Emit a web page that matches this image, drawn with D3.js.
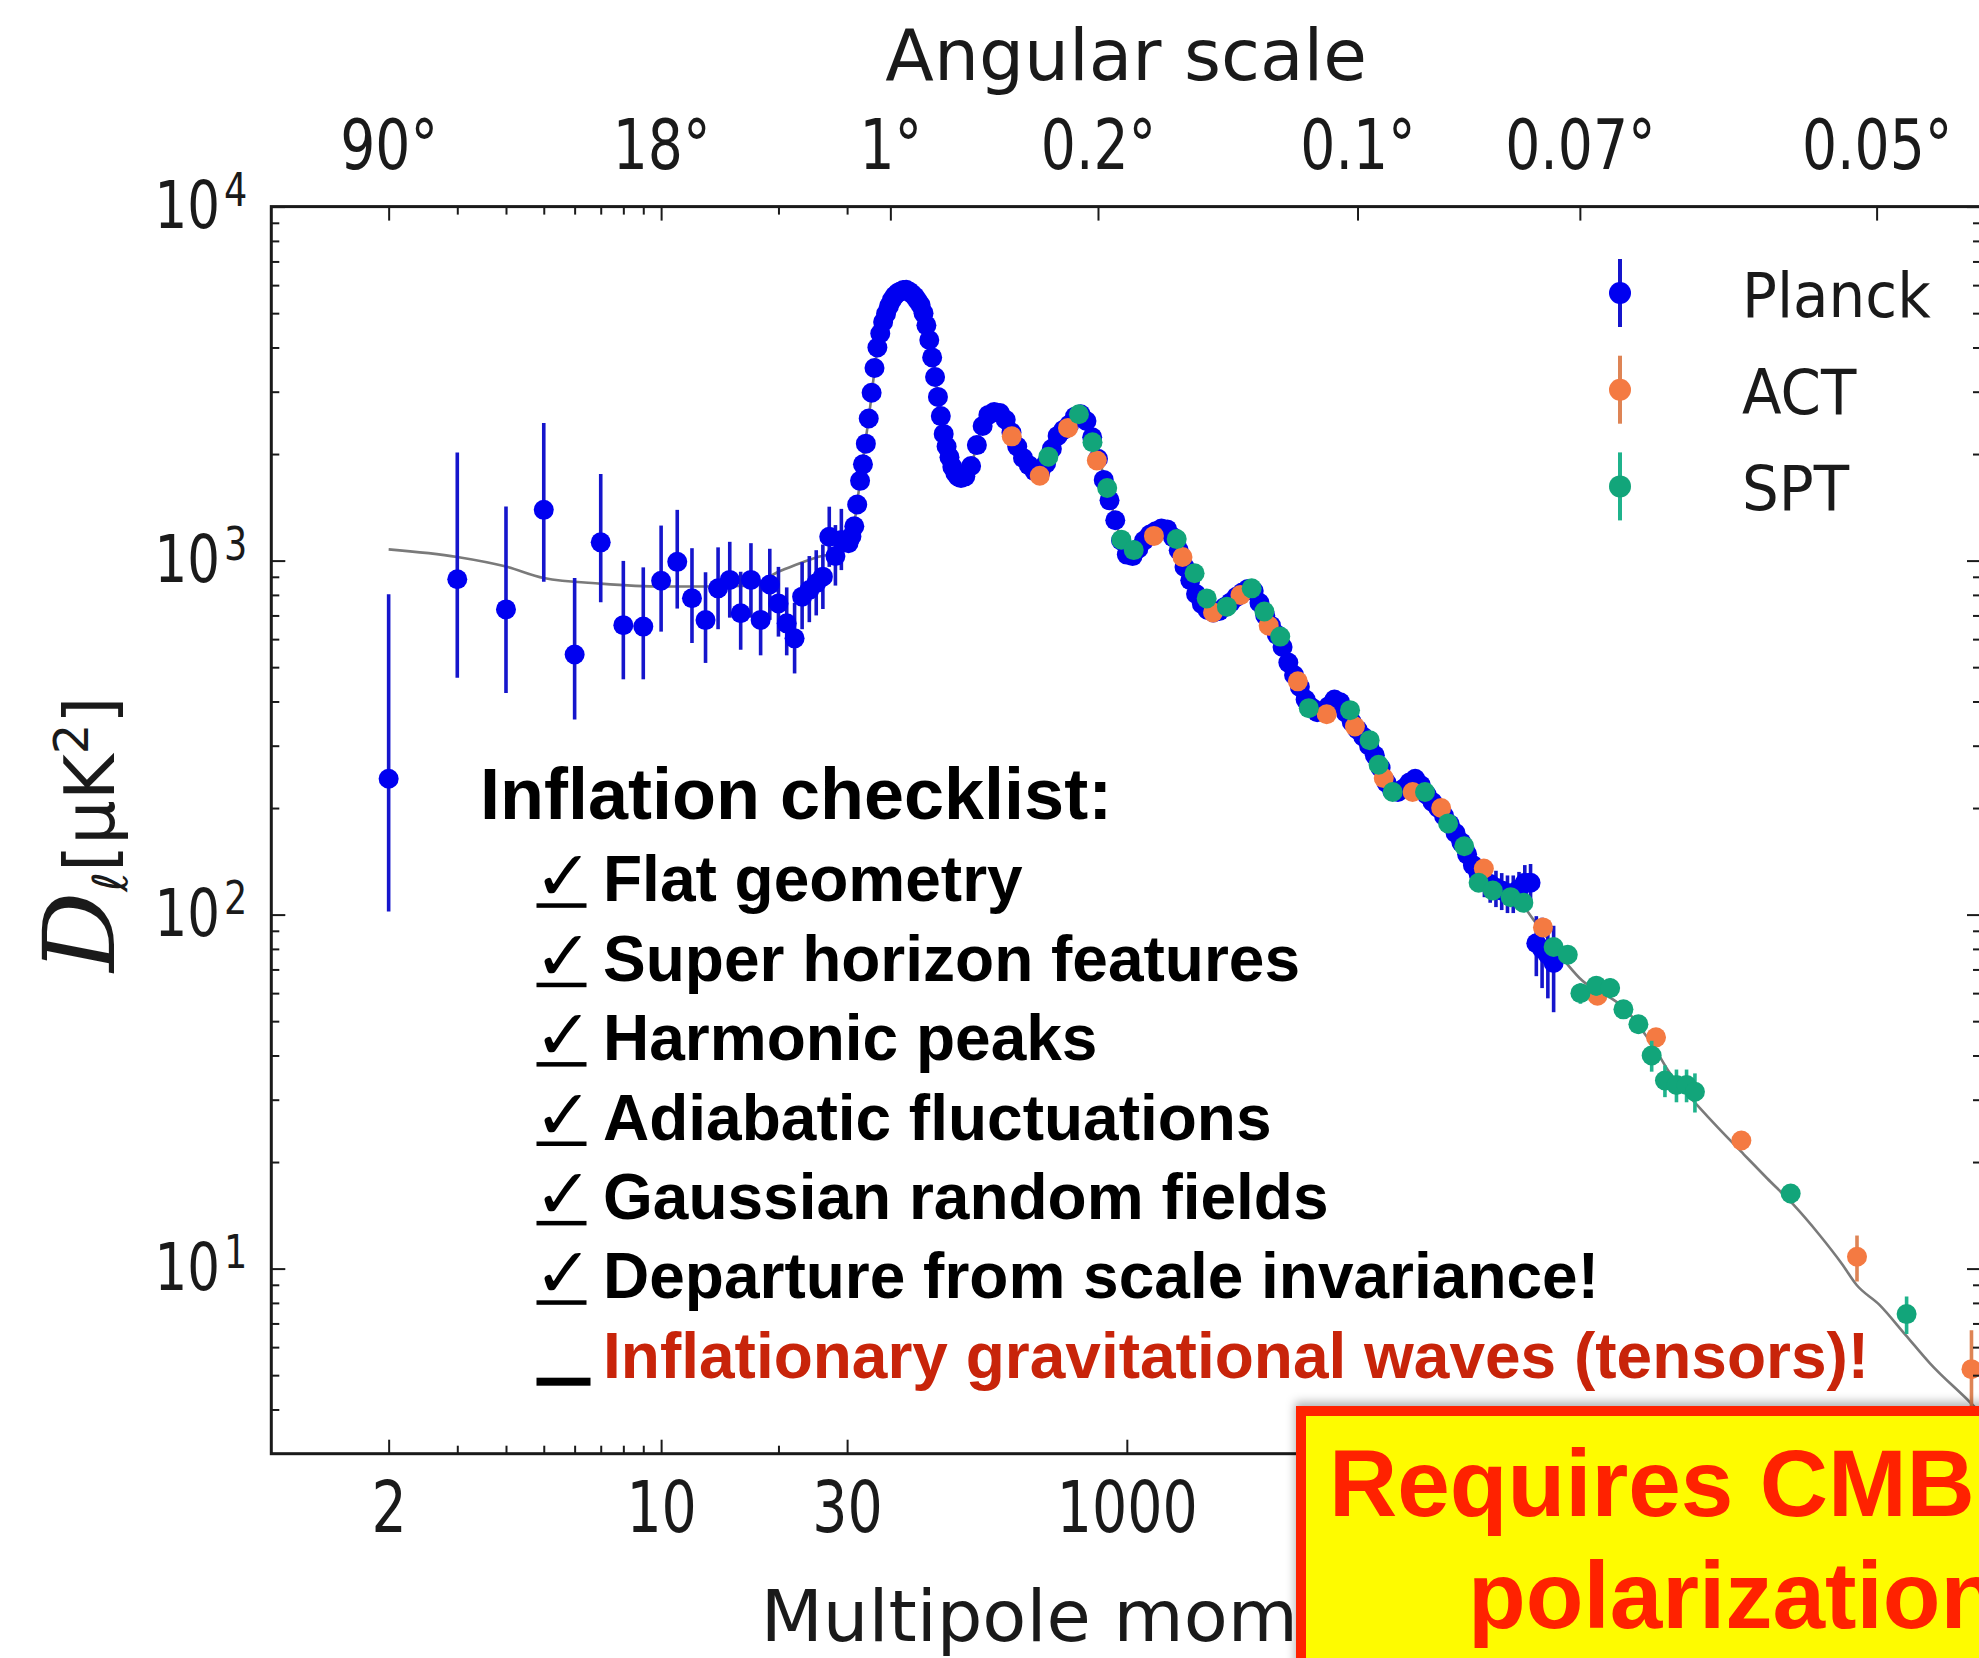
<!DOCTYPE html>
<html>
<head>
<meta charset="utf-8">
<title>CMB temperature power spectrum</title>
<script src="https://cdn.jsdelivr.net/npm/d3@7"></script>
<style>
  html, body { margin: 0; padding: 0; background: #fff; }
  svg { display: block; }
</style>
</head>
<body>
<svg id="chart" width="1979" height="1658"></svg>
<script>
// ---------------- data (D_ell in μK²) ----------------
// Planck low-ℓ: [ℓ, D, lower, upper]
const planckLow = [
  [2, 242, 102, 803], [3, 886, 467, 2020], [4, 728, 423, 1422], [5, 1391, 871, 2447],
  [6, 543, 356, 893], [7, 1126, 763, 1757], [8, 657, 462, 998], [9, 651, 462, 957],
  [10, 877, 630, 1256], [11, 992, 732, 1391], [12, 783, 585, 1084], [13, 679, 514, 927],
  [14, 835, 640, 1090], [15, 882, 690, 1130], [16, 710, 560, 930], [17, 882, 690, 1120],
  [18, 680, 540, 880], [19, 856, 680, 1080], [20, 757, 610, 960], [21, 665, 540, 840],
  [22, 603, 480, 760], [23, 791, 640, 990], [24, 826, 670, 1030], [25, 863, 700, 1070],
  [26, 901, 730, 1110], [27, 1168, 960, 1420], [28, 1030, 850, 1260], [29, 1144, 940, 1400]
];

// Planck binned spectrum: [ℓ, D] (error bars smaller than the markers)
const planckBinned = [
  [35, 1120], [45, 1170], [55, 1250], [65, 1440], [75, 1680], [85, 1870], [95, 2140], [105, 2520], [115, 2980], [125, 3500],
  [135, 4000], [145, 4380], [155, 4720], [165, 4980], [175, 5230], [185, 5445], [195, 5600], [205, 5700], [215, 5760], [225, 5810],
  [235, 5818], [245, 5760], [255, 5670], [265, 5568], [275, 5420], [285, 5270], [295, 5000], [305, 4620], [315, 4200], [325, 3750],
  [335, 3300], [345, 2900], [355, 2560], [365, 2280], [375, 2100], [385, 1960], [395, 1840], [405, 1770], [415, 1725], [425, 1710],
  [440, 1730], [460, 1850], [480, 2120], [500, 2400], [520, 2580], [540, 2630], [560, 2610], [580, 2500], [600, 2300], [620, 2100],
  [640, 1950], [660, 1860], [680, 1790], [700, 1780], [720, 1880], [740, 2070], [760, 2250], [780, 2340], [800, 2420], [820, 2550],
  [840, 2590], [860, 2480], [880, 2230], [900, 1940], [920, 1690], [940, 1480], [960, 1300], [980, 1140], [1000, 1040], [1020, 1030],
  [1040, 1080], [1060, 1140], [1080, 1185], [1100, 1210], [1120, 1232], [1140, 1225], [1160, 1165], [1180, 1070], [1200, 960], [1220, 880],
  [1240, 805], [1260, 755], [1280, 725], [1300, 714], [1320, 720], [1340, 740], [1360, 762], [1380, 790], [1400, 812], [1420, 832],
  [1440, 820], [1460, 760], [1480, 700], [1500, 655], [1520, 618], [1540, 570], [1560, 515], [1580, 475], [1600, 440], [1620, 405],
  [1640, 385], [1660, 373], [1680, 377], [1700, 388], [1720, 405], [1740, 398], [1760, 372], [1780, 350], [1800, 333], [1820, 318],
  [1840, 300], [1860, 282], [1880, 260], [1900, 236], [1920, 224], [1940, 222], [1960, 227], [1980, 236], [2000, 242], [2020, 232],
  [2040, 218], [2060, 208], [2080, 200], [2100, 190], [2120, 180], [2140, 170], [2160, 160], [2180, 148]
];
// Planck high-ℓ tail with visible error bars: [ℓ, D, ±err]
const planckTail = [
  [2200, 138, 10], [2220, 130, 12], [2240, 125, 13], [2260, 122, 14], [2280, 119, 14], [2300, 117, 14],
  [2320, 115, 14], [2340, 115, 14], [2360, 118, 14], [2380, 123, 15], [2400, 123, 16], [2420, 83, 16],
  [2440, 80, 18], [2460, 77, 19], [2480, 73, 20]
];

// ACT
const actEll = [601, 698, 796, 896, 1094, 1193, 1299, 1394, 1492, 1593, 1693, 1791, 1891, 1991, 2090, 2238, 2443, 2632, 2835, 3131, 3532, 3929];
const actD   = [2244, 1736, 2370, 1918, 1174, 1024, 714, 799, 655, 456, 368, 340, 243, 222, 200, 135, 92, 59, 45, 23, 10.8, 5.2];
const actErr = [25, 20, 25, 20, 12, 10, 8, 8, 7, 5, 4, 4, 3, 3, 3, 3, 2, 1.5, 1.2, 1.2, 1.6, 1.5];

// SPT
const sptEll = [728, 834, 881, 932, 981, 1024, 1173, 1235, 1277, 1347, 1433, 1477, 1532, 1631, 1774, 1842, 1873, 1922, 2034, 2114,
  2170, 2220, 2269, 2331, 2375, 2480, 2529, 2573, 2628, 2676, 2722, 2774, 2820, 2866, 2906, 2941, 2970, 3302, 3704];
const sptD   = [1966, 2591, 2160, 1603, 1146, 1071, 1150, 921, 782, 741, 835, 718, 610, 383, 378, 311, 265, 222, 222, 181,
  156, 123, 117, 112, 108, 81, 77, 60, 63, 62, 54, 49, 40, 34, 33, 33, 31.6, 16.3, 7.44];
const sptErr = [20, 25, 20, 15, 10, 10, 10, 8, 7, 7, 8, 7, 6, 4, 4, 3, 3, 3, 3, 3,
  3, 3, 3, 3, 3, 4, 4, 4, 4, 4, 3, 3, 4, 3.5, 3.5, 3.5, 4, 1, 0.9];

// best-fit model curve: [ℓ, D]
const model = [
  [2, 1076], [3, 1024], [4, 962], [5, 893], [7, 861], [10, 845], [13, 845], [17, 849], [20, 930], [22, 970],
  [25, 1020], [30, 1080], [47, 1170], [77, 1726], [107, 2600], [137, 4067], [167, 4996], [197, 5628], [227, 5818], [257, 5652],
  [287, 5221], [317, 4112], [347, 2843], [377, 2053], [420, 1740], [467, 1946], [497, 2365], [540, 2610], [587, 2418], [617, 2128],
  [677, 1803], [737, 2053], [767, 2289], [827, 2584], [887, 2155], [947, 1429], [1007, 1026], [1067, 1160], [1127, 1228], [1187, 1037],
  [1247, 783], [1307, 714], [1367, 769], [1427, 833], [1487, 680], [1547, 546], [1607, 424], [1667, 375], [1727, 403], [1787, 343],
  [1847, 292], [1907, 228], [1937, 222], [1997, 240], [2057, 211], [2117, 182], [2177, 150], [2237, 126], [2297, 117], [2357, 110],
  [2417, 95], [2477, 82], [2530, 72], [2580, 65], [2630, 61], [2680, 58], [2730, 54], [2780, 48], [2830, 42], [2880, 36],
  [2930, 32], [2977, 29], [3050, 25], [3140, 21], [3220, 18], [3310, 15.2], [3400, 12.5], [3480, 10.3], [3530, 9.0], [3610, 7.9],
  [3700, 6.5], [3785, 5.4], [3923, 4.2], [3962, 3.9]
];

// ticks
const bottomMajorLog = [2, 10, 30];
const bottomMajorLin = [1000];
const bottomMinorLog = [3, 4, 5, 6, 7, 8, 9, 20];
const topTickEll = [2, 10, 180, 900, 1800, 2571, 3600];
const topTickLabels = ["90°", "18°", "1°", "0.2°", "0.1°", "0.07°", "0.05°"];
const topMinorLog = [3, 4, 5, 6, 7, 8, 9, 20, 30];
const yMajor = [10, 100, 1000, 10000];

// legend and annotation text
const legendNames = ["Planck", "ACT", "SPT"];
const checklistTitle = "Inflation checklist:";
const checklistDone = ["Flat geometry", "Super horizon features", "Harmonic peaks",
  "Adiabatic fluctuations", "Gaussian random fields", "Departure from scale invariance!"];
const checklistOpen = "Inflationary gravitational waves (tensors)!";
const calloutLines = ["Requires CMB", "polarization"];

// ---------------- layout ----------------
const plot = { left: 271.3, right: 1981, top: 206.6, bottom: 1453.7 };
const ellBreak = 30, xBreak = 847.1;
const xLog = d3.scaleLog().domain([1, ellBreak]).range([plot.left, xBreak]);
const xLin = d3.scaleLinear().domain([ellBreak, 3962]).range([xBreak, plot.right]);
const x = l => (l <= ellBreak ? xLog(l) : xLin(l));
const y = d3.scaleLog().domain([3, 10000]).range([plot.bottom, plot.top]);

const colors = {
  Planck: { dot: "#0000f0", bar: "#1515cc" },
  ACT:    { dot: "#f47a42", bar: "#de8455" },
  SPT:    { dot: "#12a57a", bar: "#1fb38c" }
};
const R = 10;
const axisFont = "DejaVu Sans, Verdana, sans-serif";
const boldFont = "Liberation Sans, Arial, Helvetica, sans-serif";

const svg = d3.select("#chart");
svg.append("rect").attr("width", 1979).attr("height", 1658).attr("fill", "#fff");

const defs = svg.append("defs");
defs.append("clipPath").attr("id", "plot-clip")
  .append("rect").attr("x", plot.left).attr("y", plot.top)
  .attr("width", plot.right - plot.left).attr("height", plot.bottom - plot.top);
const shadow = defs.append("filter").attr("id", "box-shadow")
  .attr("x", "-5%").attr("y", "-20%").attr("width", "120%").attr("height", "140%");
shadow.append("feDropShadow").attr("dx", -1).attr("dy", -4).attr("stdDeviation", 5)
  .attr("flood-color", "#000").attr("flood-opacity", 0.3);

// ---------------- data layer ----------------
const data = svg.append("g").attr("clip-path", "url(#plot-clip)");

data.append("path")
  .datum(model)
  .attr("d", d3.line().x(d => x(d[0])).y(d => y(d[1])).curve(d3.curveMonotoneX))
  .attr("fill", "none").attr("stroke", "#7a7a7a").attr("stroke-width", 2.6);

function drawSeries(name, pts) {
  const c = colors[name];
  const g = data.append("g");
  g.selectAll("line").data(pts.filter(d => d.hi > d.lo)).join("line")
    .attr("x1", d => x(d.l)).attr("x2", d => x(d.l))
    .attr("y1", d => y(Math.max(d.lo, 3))).attr("y2", d => y(d.hi))
    .attr("stroke", c.bar).attr("stroke-width", 3.6);
  g.selectAll("circle").data(pts).join("circle")
    .attr("cx", d => x(d.l)).attr("cy", d => y(d.v)).attr("r", R)
    .attr("fill", c.dot);
}

const planckPts = planckLow.map(([l, v, lo, hi]) => ({ l, v, lo, hi }))
  .concat(planckBinned.map(([l, v]) => ({ l, v, lo: v, hi: v })))
  .concat(planckTail.map(([l, v, e]) => ({ l, v, lo: v - e, hi: v + e })));
const actPts = actEll.map((l, i) => ({ l, v: actD[i], lo: actD[i] - actErr[i], hi: actD[i] + actErr[i] }));
const sptPts = sptEll.map((l, i) => ({ l, v: sptD[i], lo: sptD[i] - sptErr[i], hi: sptD[i] + sptErr[i] }));

drawSeries("Planck", planckPts);
drawSeries("ACT", actPts);
drawSeries("SPT", sptPts);

// ---------------- axes ----------------
const ink = "#1a1a1a";
function tidy(g, tickWidth) {
  g.select(".domain").remove();
  g.selectAll(".tick line").attr("stroke", ink).attr("stroke-width", tickWidth || 2);
  g.attr("color", ink).attr("font-family", axisFont);
}

// bottom: ℓ
[[xLog, bottomMajorLog], [xLin, bottomMajorLin]].forEach(([s, vals]) => {
  const g = svg.append("g").attr("transform", `translate(0,${plot.bottom})`)
    .call(d3.axisBottom(s).tickValues(vals).tickSize(-14).tickPadding(28).tickFormat(d => String(d)));
  tidy(g);
  g.attr("font-size", 71);
  g.selectAll("text").attr("transform", "scale(0.78,1)");
});
svg.append("g").attr("transform", `translate(0,${plot.bottom})`)
  .call(d3.axisBottom(xLog).tickValues(bottomMinorLog).tickSize(-8).tickFormat(() => ""))
  .call(g => tidy(g));

// top: angular scale
const topLabel = d => topTickLabels[topTickEll.indexOf(d)];
[[xLog, topTickEll.filter(l => l <= ellBreak)], [xLin, topTickEll.filter(l => l > ellBreak)]].forEach(([s, vals]) => {
  const g = svg.append("g").attr("transform", `translate(0,${plot.top})`)
    .call(d3.axisTop(s).tickValues(vals).tickSize(-14).tickPadding(38).tickFormat(topLabel));
  tidy(g);
  g.attr("font-size", 69);
  g.selectAll("text").attr("transform", "scale(0.8,1)");
});
svg.append("g").attr("transform", `translate(0,${plot.top})`)
  .call(d3.axisTop(xLog).tickValues(topMinorLog).tickSize(-8).tickFormat(() => ""))
  .call(g => tidy(g));

// y minor ticks
const yMinor = [];
[1, 10, 100, 1000].forEach(dec => d3.range(2, 10).forEach(m => {
  const v = dec * m;
  if (v > 3 && v < 10000) yMinor.push(v);
}));

// left axis with 10^n labels
const yK = 0.78;
const left = svg.append("g").attr("transform", `translate(${plot.left},0)`)
  .call(d3.axisLeft(y).tickValues(yMajor).tickSize(-14).tickPadding(24).tickFormat(""));
tidy(left);
left.attr("font-size", 66);
left.selectAll(".tick text").each(function (d) {
  const t = d3.select(this);
  t.text(null).attr("x", -24 / yK).attr("transform", `scale(${yK},1)`);
  t.append("tspan").text("10");
  t.append("tspan").attr("font-size", 47).attr("dx", 5).attr("dy", -22).text(String(Math.round(Math.log10(d))));
});
svg.append("g").attr("transform", `translate(${plot.left},0)`)
  .call(d3.axisLeft(y).tickValues(yMinor).tickSize(-8).tickFormat(() => ""))
  .call(g => tidy(g));

// right axis ticks
svg.append("g").attr("transform", `translate(${plot.right},0)`)
  .call(d3.axisRight(y).tickValues(yMajor).tickSize(-14).tickFormat(() => ""))
  .call(g => tidy(g));
svg.append("g").attr("transform", `translate(${plot.right},0)`)
  .call(d3.axisRight(y).tickValues(yMinor).tickSize(-8).tickFormat(() => ""))
  .call(g => tidy(g));

// frame
svg.append("rect")
  .attr("x", plot.left).attr("y", plot.top)
  .attr("width", plot.right - plot.left).attr("height", plot.bottom - plot.top)
  .attr("fill", "none").attr("stroke", ink).attr("stroke-width", 3);

// axis titles
const midX = (plot.left + plot.right) / 2;
svg.append("text").attr("x", midX).attr("y", 80)
  .attr("text-anchor", "middle").attr("font-family", axisFont).attr("font-size", 71).attr("fill", ink)
  .text("Angular scale");
svg.append("text").attr("x", midX).attr("y", 1641)
  .attr("text-anchor", "middle").attr("font-family", axisFont).attr("font-size", 72).attr("fill", ink)
  .text("Multipole moment, ℓ");

const yTitle = svg.append("text")
  .attr("transform", `translate(114,${(plot.top + plot.bottom) / 2 + 4}) rotate(-90)`)
  .attr("text-anchor", "middle").attr("font-family", axisFont).attr("font-size", 70).attr("fill", ink);
yTitle.append("tspan").attr("font-family", "DejaVu Serif, Liberation Serif, serif")
  .attr("font-style", "italic").attr("font-size", 100).text("D");
yTitle.append("tspan").attr("font-size", 48).attr("font-style", "italic").attr("dy", 13).text("ℓ");
yTitle.append("tspan").attr("dy", -13).text("[μK");
yTitle.append("tspan").attr("font-size", 48).attr("dy", -26).text("2");
yTitle.append("tspan").attr("dy", 26).text("]");

// ---------------- legend ----------------
const legend = svg.append("g").attr("transform", "translate(1620,293)");
legendNames.forEach((name, i) => {
  const g = legend.append("g").attr("transform", `translate(0,${i * 96.7})`);
  g.append("line").attr("y1", -34).attr("y2", 34)
    .attr("stroke", colors[name].bar).attr("stroke-width", 4);
  g.append("circle").attr("r", 11).attr("fill", colors[name].dot);
  g.append("text").attr("transform", "translate(122,24) scale(0.92,1)")
    .attr("font-family", axisFont).attr("font-size", 63).attr("fill", ink).text(name);
});

// ---------------- checklist ----------------
const notes = svg.append("g").attr("font-family", boldFont).attr("font-weight", "bold");
notes.append("text").attr("x", 480).attr("y", 819).attr("font-size", 72).attr("fill", "#000")
  .text(checklistTitle);
const rowY = i => 901.3 + i * 79.4;
checklistDone.forEach((item, i) => {
  notes.append("text").attr("x", 534).attr("y", rowY(i) - 1)
    .attr("font-family", "DejaVu Sans, sans-serif").attr("font-size", 70).attr("fill", "#000").text("✓");
  notes.append("rect").attr("x", 536.5).attr("y", rowY(i) + 2).attr("width", 50).attr("height", 4.5).attr("fill", "#000");
  notes.append("text").attr("x", 603).attr("y", rowY(i)).attr("font-size", 64).attr("fill", "#000").text(item);
});
const lastY = rowY(checklistDone.length);
notes.append("rect").attr("x", 536.5).attr("y", lastY).attr("width", 54).attr("height", 8).attr("fill", "#000");
notes.append("text").attr("x", 603).attr("y", lastY).attr("font-size", 64).attr("fill", "#c8240a").text(checklistOpen);

// ---------------- callout box ----------------
const box = svg.append("g");
box.append("rect").attr("x", 1301).attr("y", 1411).attr("width", 760).attr("height", 400)
  .attr("fill", "#fefb00").attr("stroke", "#ff2200").attr("stroke-width", 10)
  .attr("filter", "url(#box-shadow)");
box.append("text").attr("x", 1329).attr("y", 1516)
  .attr("font-family", boldFont).attr("font-weight", "bold").attr("font-size", 94.5).attr("fill", "#ff2200")
  .text(calloutLines[0]);
box.append("text").attr("x", 1468).attr("y", 1628)
  .attr("font-family", boldFont).attr("font-weight", "bold").attr("font-size", 94.5).attr("fill", "#ff2200")
  .text(calloutLines[1]);
</script>
</body>
</html>
